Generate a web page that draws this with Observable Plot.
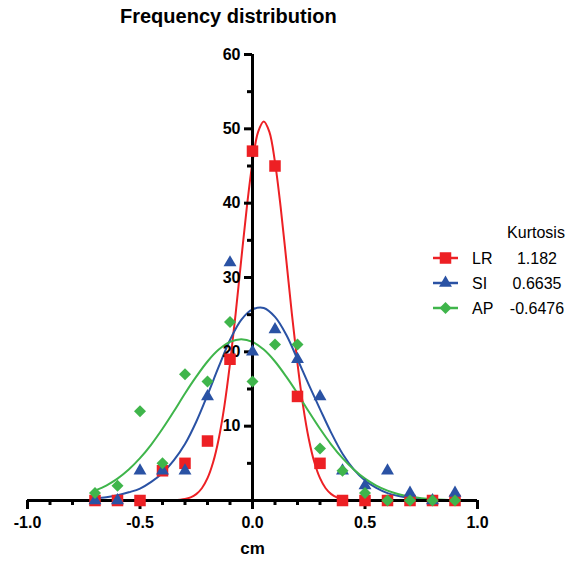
<!DOCTYPE html>
<html>
<head>
<meta charset="utf-8">
<script src="https://cdn.jsdelivr.net/npm/d3@7"></script>
<script src="https://cdn.jsdelivr.net/npm/@observablehq/plot@0.6"></script>
<style>
  html, body { margin: 0; padding: 0; background: #fff; }
  #wrap { position: relative; width: 576px; height: 565px; font-family: "Liberation Sans", Arial, sans-serif; }
  #title { position: absolute; left: 120px; top: 0; height: 33px; line-height: 33px; font-size: 20px; font-weight: bold; color: #000; white-space: nowrap; }
  #chart { position: absolute; left: 0; top: 33px; }
  #legend { position: absolute; left: 420px; top: 215px; }
</style>
</head>
<body>
<div id="wrap">
  <div id="title">Frequency distribution</div>
  <div id="chart"></div>
  <div id="legend"></div>
</div>
<script>
// ---- data ----
const binX = [-0.7, -0.6, -0.5, -0.4, -0.3, -0.2, -0.1, 0, 0.1, 0.2, 0.3, 0.4, 0.5, 0.6, 0.7, 0.8, 0.9];
const lrCounts = [0, 0, 0, 4, 5, 8, 19, 47, 45, 14, 5, 0, 0, 0, 0, 0, 0];
const siCounts = [0, 0, 4, 4, 4, 14, 32, 20, 23, 19, 14, 4, 2, 4, 1, 0, 1];
const apCounts = [1, 2, 12, 5, 17, 16, 24, 16, 21, 21, 7, 4, 1, 0, 0, 0, 0];

// fitted curves
const lrCurveX = [-0.7, -0.6, -0.5, -0.4, -0.35, -0.3, -0.275, -0.25, -0.225, -0.2, -0.175, -0.15, -0.125, -0.1, -0.075, -0.05, -0.025, 0, 0.025, 0.05, 0.075, 0.1, 0.125, 0.15, 0.175, 0.2, 0.225, 0.25, 0.275, 0.3, 0.325, 0.35, 0.375, 0.4, 0.45, 0.5, 0.6, 0.7, 0.8, 0.9];
const lrCurveY = [0, 0, 0, 0.01, 0.04, 0.2, 0.42, 0.86, 1.65, 3.0, 5.14, 8.31, 12.7, 18.4, 25.1, 32.4, 39.5, 45.5, 49.6, 51.0, 49.6, 45.5, 39.5, 32.4, 25.1, 18.4, 12.7, 8.31, 5.14, 3.0, 1.65, 0.86, 0.42, 0.2, 0.04, 0.01, 0, 0, 0, 0];
const curveX = [-0.7, -0.65, -0.6, -0.55, -0.5, -0.45, -0.4, -0.35, -0.3, -0.25, -0.2, -0.15, -0.1, -0.05, 0, 0.05, 0.1, 0.15, 0.2, 0.25, 0.3, 0.35, 0.4, 0.45, 0.5, 0.55, 0.6, 0.65, 0.7, 0.75, 0.8, 0.85, 0.9];
const siCurveY = [0.3, 0.45, 0.7, 1.1, 1.6, 2.5, 3.7, 5.4, 7.6, 10.6, 14.2, 18.0, 21.6, 24.3, 25.7, 25.9, 24.7, 22.3, 19.0, 15.6, 12.3, 9.1, 6.3, 4.2, 2.7, 1.7, 1.0, 0.6, 0.35, 0.2, 0.1, 0.05, 0.03];
const apCurveY = [1.33, 2.01, 2.94, 4.16, 5.69, 7.53, 9.65, 11.97, 14.4, 16.66, 18.7, 20.3, 21.34, 21.7, 21.34, 20.3, 18.7, 16.66, 14.4, 11.97, 9.65, 7.53, 5.69, 4.16, 2.94, 2.01, 1.33, 0.85, 0.53, 0.32, 0.18, 0.10, 0.06];

const seriesNames = ["LR", "SI", "AP"];
const kurtosis = ["1.182", "0.6635", "-0.6476"];
const seriesColors = ["#ed2024", "#2a52a4", "#3fb54b"];
const seriesSymbols = ["square", "triangle", "diamond2"];
const seriesR = [6.5, 4.8, 5.4];

const xMajor = [-1, -0.5, 0, 0.5, 1];
const xMinor = [-0.9, -0.8, -0.7, -0.6, -0.4, -0.3, -0.2, -0.1, 0.1, 0.2, 0.3, 0.4, 0.6, 0.7, 0.8, 0.9];
const yMajor = [10, 20, 30, 40, 50, 60];
const yMinor = [5, 15, 25, 35, 45, 55];

// ---- tables ----
const countsBySeries = [lrCounts, siCounts, apCounts];
const pts = countsBySeries.map(arr => binX.map((x, i) => ({x, y: arr[i]})));
const curves = [
  lrCurveX.map((x, i) => ({x, y: lrCurveY[i]})),
  curveX.map((x, i) => ({x, y: siCurveY[i]})),
  curveX.map((x, i) => ({x, y: apCurveY[i]}))
];

const FONT = "Liberation Sans, Arial, sans-serif";

const marks = [];
curves.forEach((c, k) => {
  marks.push(Plot.line(c, {x: "x", y: "y", stroke: seriesColors[k], strokeWidth: 2, curve: "catmull-rom"}));
});
marks.push(Plot.ruleY([0], {strokeWidth: 3, stroke: "#000"}));
marks.push(Plot.ruleX([0], {strokeWidth: 3, stroke: "#000"}));
marks.push(Plot.axisX(xMajor, {tickSize: 9, tickPadding: 7, strokeWidth: 3, tickFormat: d => d.toFixed(1), fontSize: 16, fontWeight: "bold", fill: "#000", stroke: "#000", label: null}));
marks.push(Plot.axisX(xMinor, {tickSize: 5, strokeWidth: 3, fill: "none", stroke: "#000", label: null}));
marks.push(Plot.axisY(yMajor, {x: 0, anchor: "left", tickSize: 8, tickPadding: 4, strokeWidth: 3, fontSize: 16, fontWeight: "bold", fill: "#000", stroke: "#000", label: null}));
marks.push(Plot.axisY(yMinor, {x: 0, anchor: "left", tickSize: 5, strokeWidth: 3, fill: "none", stroke: "#000", label: null}));
pts.forEach((p, k) => {
  marks.push(Plot.dot(p, {x: "x", y: "y", symbol: seriesSymbols[k], fill: seriesColors[k], stroke: "none", r: seriesR[k]}));
});
marks.push(Plot.text(["cm"], {frameAnchor: "bottom", dy: 53, fontSize: 17, fontWeight: "bold", fill: "#000"}));

const chart = Plot.plot({
  width: 576,
  height: 532,
  marginLeft: 27,
  marginRight: 99,
  marginTop: 21,
  marginBottom: 65,
  x: {domain: [-1, 1], axis: null},
  y: {domain: [0, 60], axis: null},
  style: {fontFamily: FONT, background: "white", overflow: "visible"},
  marks
});
document.getElementById("chart").appendChild(chart);

// ---- legend ----
const symMap = {square: d3.symbolSquare, triangle: d3.symbolTriangle, diamond2: d3.symbolDiamond2};
const lg = d3.select("#legend").append("svg").attr("width", 156).attr("height", 110)
  .style("font-family", FONT).style("overflow", "visible");
lg.append("text").attr("x", 116).attr("y", 17).attr("text-anchor", "middle").attr("dominant-baseline", "central")
  .attr("font-size", 16).attr("fill", "#000").text("Kurtosis");
seriesNames.forEach((name, k) => {
  const cy = 43 + k * 25;
  lg.append("line").attr("x1", 13).attr("x2", 38).attr("y1", cy).attr("y2", cy)
    .attr("stroke", seriesColors[k]).attr("stroke-width", 2.5);
  lg.append("path").attr("transform", `translate(25.5,${cy})`)
    .attr("d", d3.symbol(symMap[seriesSymbols[k]], Math.PI * seriesR[k] * seriesR[k])())
    .attr("fill", seriesColors[k]);
  lg.append("text").attr("x", 52).attr("y", cy).attr("dominant-baseline", "central")
    .attr("font-size", 16).attr("fill", "#000").text(name);
  lg.append("text").attr("x", 117).attr("y", cy).attr("text-anchor", "middle").attr("dominant-baseline", "central")
    .attr("font-size", 16).attr("fill", "#000").text(kurtosis[k]);
});
</script>
</body>
</html>
